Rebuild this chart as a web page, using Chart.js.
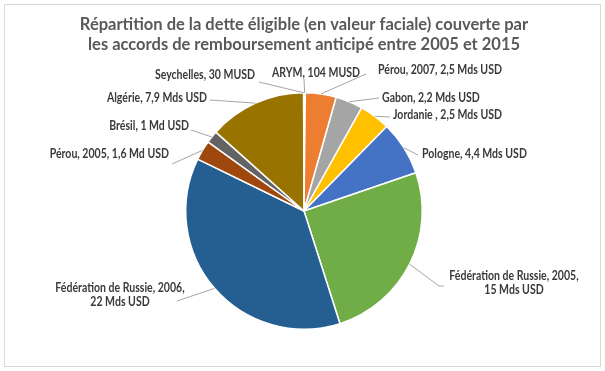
<!DOCTYPE html>
<html>
<head>
<meta charset="utf-8">
<script src="https://cdn.jsdelivr.net/npm/chart.js@4"></script>
<style>
  html, body { margin: 0; padding: 0; background: #ffffff; }
  #wrap { position: relative; width: 605px; height: 371px; }
</style>
</head>
<body>
<div id="wrap"><canvas id="detteChart" width="605" height="371"></canvas></div>
<script>
// Données : pays / accords, dette éligible en Mds USD
const categories = [
  'ARYM', 'Pérou, 2007', 'Gabon', 'Jordanie ', 'Pologne',
  'Fédération de Russie, 2005', 'Fédération de Russie, 2006',
  'Pérou, 2005', 'Brésil', 'Algérie', 'Seychelles'
];
const valuesMdsUSD = [0.104, 2.5, 2.2, 2.5, 4.4, 15, 22, 1.6, 1, 7.9, 0.03];
const valueLabels = [
  '104 MUSD', '2,5 Mds USD', '2,2 Mds USD', '2,5 Mds USD', '4,4 Mds USD',
  '15 Mds USD', '22 Mds USD', '1,6 Md USD', '1 Md USD', '7,9 Mds USD', '30 MUSD'
];
const sliceColors = [
  '#5B9BD5', '#ED7D31', '#A5A5A5', '#FFC000', '#4472C4',
  '#70AD47', '#255E91', '#9E480E', '#636363', '#997300', '#264478'
];
const titleLines = [
  'Répartition de la dette éligible (en valeur faciale) couverte par',
  'les accords de remboursement anticipé entre 2005 et 2015'
];

// placement des étiquettes (texte + point d'attache du trait)
const labelLayout = [
  { x: 316, y: 73, align: 'center', lines: 1, from: [304, 79] },
  { x: 378, y: 70, align: 'left', lines: 1, from: [366, 74] },
  { x: 382, y: 98, align: 'left', lines: 1, from: [379, 98] },
  { x: 393, y: 115, align: 'left', lines: 1, from: [390, 117] },
  { x: 422, y: 154, align: 'left', lines: 1, from: [418, 155] },
  { x: 514, y: 276, align: 'center', lines: 2, from: [444, 286], elbow: [439, 286] },
  { x: 120, y: 288, align: 'center', lines: 2, from: [177, 301] },
  { x: 169, y: 154, align: 'right', lines: 1, from: [172, 164] },
  { x: 189, y: 126, align: 'right', lines: 1, from: [191, 130] },
  { x: 207, y: 98, align: 'right', lines: 1, from: [210, 100] },
  { x: 255, y: 75, align: 'right', lines: 1, from: [259, 82] }
];

const labelFont = 'bold 13px Lato, "Open Sans", sans-serif';
const labelSqueeze = 0.81;
const titleFont = 'bold 16.5px Lato, "Open Sans", sans-serif';
const titleWidth = 455;

// texte condensé (la police Calibri d'origine est plus étroite)
const squeezedText = (ctx, text, x, y, factor) => {
  const w = ctx.measureText(text).width;
  ctx.fillText(text, x, y, w * factor);
};

// cadre gris + titre
const frameAndTitle = {
  id: 'frameAndTitle',
  beforeDraw(chart) {
    const ctx = chart.ctx;
    ctx.save();
    ctx.fillStyle = '#ffffff';
    ctx.fillRect(0, 0, chart.width, chart.height);
    ctx.strokeStyle = '#d9d9d9';
    ctx.lineWidth = 1;
    ctx.strokeRect(4.5, 4.5, chart.width - 9, chart.height - 9);

    ctx.font = titleFont;
    ctx.fillStyle = '#595959';
    ctx.textAlign = 'center';
    ctx.textBaseline = 'middle';
    const factor = titleWidth / ctx.measureText(titleLines[0]).width;
    titleLines.forEach((line, i) => {
      squeezedText(ctx, line, 304, 24.5 + i * 20.5, factor);
    });
    ctx.restore();
  }
};

// étiquettes avec traits de rappel
const leaderLabels = {
  id: 'leaderLabels',
  afterDatasetsDraw(chart) {
    const ctx = chart.ctx;
    const arcs = chart.getDatasetMeta(0).data;
    ctx.save();
    ctx.font = labelFont;
    ctx.textBaseline = 'middle';
    arcs.forEach((arc, i) => {
      const lay = labelLayout[i];
      if (!lay) return;
      const p = arc.getProps(['x', 'y', 'startAngle', 'endAngle', 'outerRadius'], true);
      const mid = (p.startAngle + p.endAngle) / 2;
      const ex = p.x + Math.cos(mid) * p.outerRadius;
      const ey = p.y + Math.sin(mid) * p.outerRadius;

      ctx.strokeStyle = '#a6a6a6';
      ctx.lineWidth = 1;
      ctx.beginPath();
      ctx.moveTo(ex, ey);
      if (lay.elbow) ctx.lineTo(lay.elbow[0], lay.elbow[1]);
      ctx.lineTo(lay.from[0], lay.from[1]);
      ctx.stroke();

      ctx.fillStyle = '#3a3a3a';
      ctx.textAlign = lay.align;
      if (lay.lines === 2) {
        squeezedText(ctx, categories[i] + ',', lay.x, lay.y, labelSqueeze);
        squeezedText(ctx, valueLabels[i], lay.x, lay.y + 13.5, labelSqueeze);
      } else {
        squeezedText(ctx, categories[i] + ', ' + valueLabels[i], lay.x, lay.y, labelSqueeze);
      }
    });
    ctx.restore();
  }
};

new Chart(document.getElementById('detteChart').getContext('2d'), {
  type: 'pie',
  data: {
    labels: categories,
    datasets: [{
      data: valuesMdsUSD,
      backgroundColor: sliceColors,
      borderColor: '#ffffff',
      borderWidth: 1.5
    }]
  },
  options: {
    responsive: false,
    animation: false,
    layout: { padding: { left: 76, right: 73, top: 92, bottom: 41 } },
    plugins: {
      legend: { display: false },
      tooltip: { enabled: false },
      title: { display: false }
    }
  },
  plugins: [frameAndTitle, leaderLabels]
});
</script>
</body>
</html>
